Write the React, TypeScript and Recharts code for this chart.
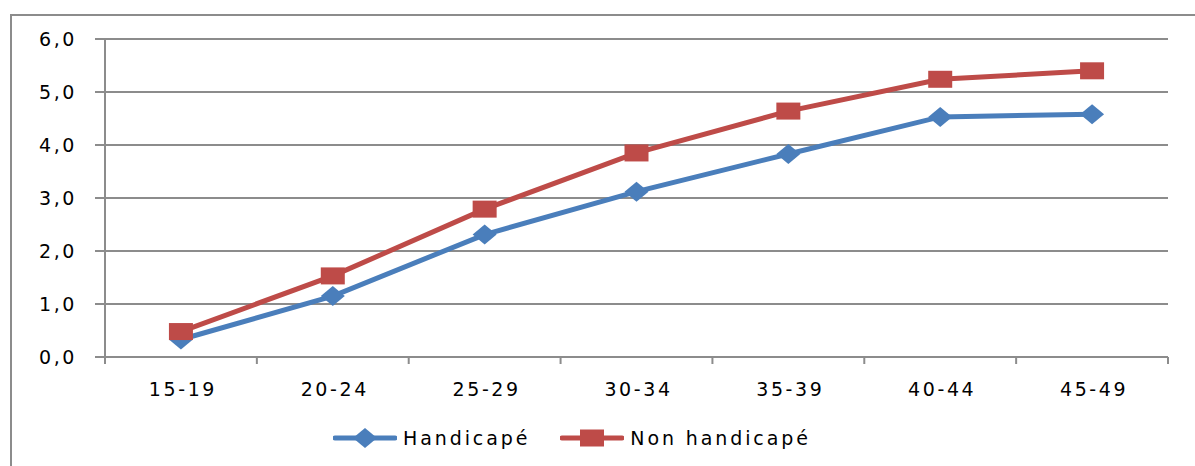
import React from "react";
import { LineChart, Line, XAxis, YAxis, CartesianGrid, Legend } from "recharts";

const categories = ["15-19", "20-24", "25-29", "30-34", "35-39", "40-44", "45-49"];
const handicape = [0.33, 1.15, 2.31, 3.12, 3.83, 4.53, 4.58];
const nonHandicape = [0.48, 1.53, 2.79, 3.85, 4.64, 5.24, 5.4];
const yTicks = [0, 1, 2, 3, 4, 5, 6];

const data = categories.map((c, i) => ({
  name: c,
  handicape: handicape[i],
  nonHandicape: nonHandicape[i],
}));

const BLUE = "#4a7ebb";
const RED = "#be4b48";
const GRID = "#8c8c8c";
const FONT = "'DejaVu Sans', Verdana, sans-serif";

const Diamond = (props: any) => {
  const { cx, cy } = props;
  if (cx == null || cy == null) return null;
  return (
    <polygon
      points={`${cx - 12},${cy} ${cx},${cy - 10} ${cx + 12},${cy} ${cx},${cy + 10}`}
      fill={BLUE}
    />
  );
};

const Square = (props: any) => {
  const { cx, cy } = props;
  if (cx == null || cy == null) return null;
  return <rect x={cx - 12} y={cy - 8.5} width={24} height={17} fill={RED} />;
};

const XTick = (props: any) => {
  const { x, y, payload, index } = props;
  const off = payload.offset || 0;
  const axisY = y - 26;
  return (
    <g>
      <line x1={x - off} y1={axisY} x2={x - off} y2={axisY + 7} stroke={GRID} strokeWidth={2} />
      {index === categories.length - 1 && (
        <line x1={x + off} y1={axisY} x2={x + off} y2={axisY + 7} stroke={GRID} strokeWidth={2} />
      )}
      <text
        x={x + 2}
        y={y}
        dy="0.68em"
        textAnchor="middle"
        fontSize={19}
        fontFamily={FONT}
        letterSpacing={2.6}
        fill="#000"
      >
        {payload.value}
      </text>
    </g>
  );
};

const YTick = (props: any) => {
  const { x, y, payload } = props;
  return (
    <text
      x={x}
      y={y}
      dy="0.38em"
      textAnchor="end"
      fontSize={19}
      fontFamily={FONT}
      letterSpacing={2.6}
      fill="#000"
    >
      {Number(payload.value).toFixed(1).replace(".", ",")}
    </text>
  );
};

const LegendContent = () => (
  <div
    style={{
      height: 40,
      display: "flex",
      alignItems: "center",
      paddingLeft: 333,
      fontFamily: FONT,
      fontSize: 19,
      letterSpacing: 2.9,
      color: "#000",
    }}
  >
    <svg width={64} height={24}>
      <line x1={2} y1={12} x2={62} y2={12} stroke={BLUE} strokeWidth={5} strokeLinecap="round" />
      <polygon points="20,12 32,2 44,12 32,22" fill={BLUE} />
    </svg>
    <span style={{ marginLeft: 6 }}>Handicapé</span>
    <svg width={64} height={24} style={{ marginLeft: 30 }}>
      <line x1={2} y1={12} x2={62} y2={12} stroke={RED} strokeWidth={5} strokeLinecap="round" />
      <rect x={20} y={3.5} width={24} height={17} fill={RED} />
    </svg>
    <span style={{ marginLeft: 6 }}>Non handicapé</span>
  </div>
);

export default function App() {
  return (
    <div
      style={{
        position: "absolute",
        left: 0,
        top: 0,
        width: 1195,
        height: 466,
        overflow: "hidden",
        background: "#fff",
      }}
    >
      <div
        style={{
          position: "absolute",
          left: 10,
          top: 14,
          width: 1220,
          height: 500,
          border: `2px solid ${GRID}`,
        }}
      />
      <div style={{ position: "absolute", left: 0, top: 0 }}>
        <LineChart
          width={1195}
          height={466}
          data={data}
          margin={{ top: 39, right: 27, left: 45, bottom: 8 }}
        >
          <CartesianGrid
            horizontal={true}
            vertical={false}
            stroke={GRID}
            strokeWidth={2}
          />
          <XAxis
            dataKey="name"
            scale="band"
            height={61}
            axisLine={{ stroke: GRID, strokeWidth: 2 }}
            tickLine={false}
            tickSize={6}
            tickMargin={20}
            tick={<XTick />}
            interval={0}
          />
          <YAxis
            width={60}
            domain={[0, 6]}
            ticks={yTicks}
            axisLine={{ stroke: GRID, strokeWidth: 2 }}
            tickLine={{ stroke: GRID, strokeWidth: 2 }}
            tickSize={10}
            tickMargin={18}
            tick={<YTick />}
          />
          <Legend
            verticalAlign="bottom"
            wrapperStyle={{ left: 0, width: 1195 }}
            content={<LegendContent />}
          />
          <Line
            type="linear"
            dataKey="handicape"
            name="Handicapé"
            stroke={BLUE}
            strokeWidth={5}
            dot={<Diamond />}
            activeDot={false}
            isAnimationActive={false}
          />
          <Line
            type="linear"
            dataKey="nonHandicape"
            name="Non handicapé"
            stroke={RED}
            strokeWidth={5}
            dot={<Square />}
            activeDot={false}
            isAnimationActive={false}
          />
        </LineChart>
      </div>
    </div>
  );
}
